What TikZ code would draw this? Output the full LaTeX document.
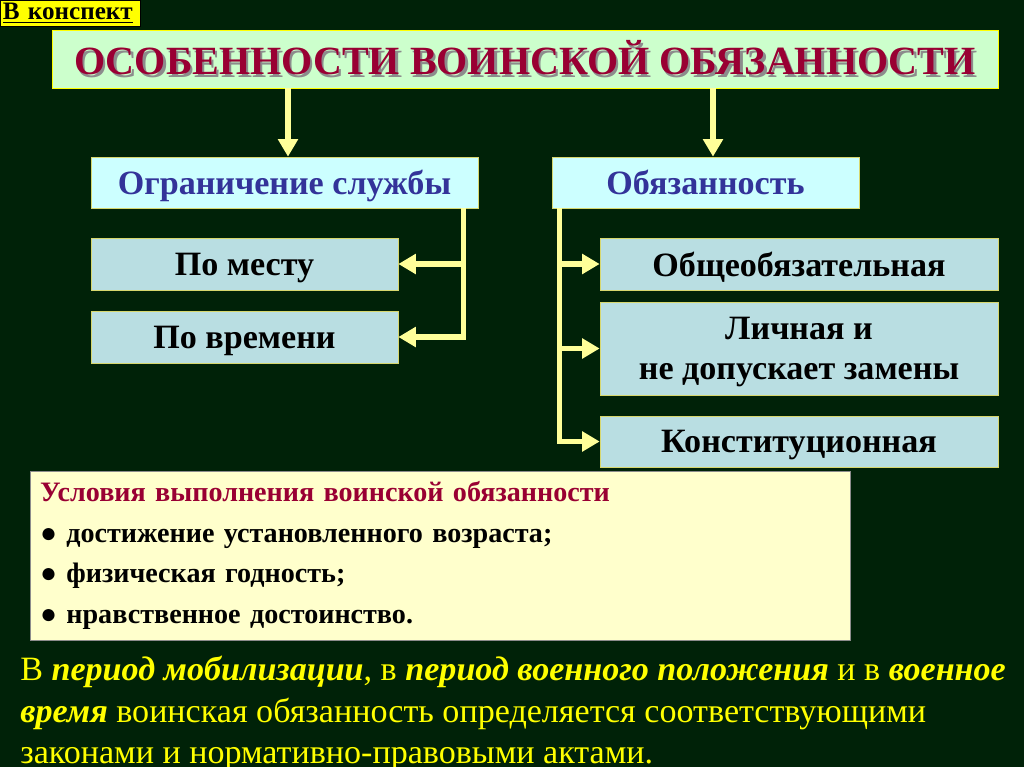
\documentclass[tikz,border=0pt]{standalone}
\usepackage{fontspec}
\setmainfont{Liberation Serif}
\definecolor{bgdark}{RGB}{0,34,8}
\definecolor{titlered}{RGB}{153,0,51}
\definecolor{headblue}{RGB}{51,51,153}
\definecolor{lightgreen}{RGB}{204,255,204}
\definecolor{lightcyan}{RGB}{204,255,255}
\definecolor{itemblue}{RGB}{185,222,226}
\definecolor{paleyellow}{RGB}{255,255,204}
\definecolor{linkyellow}{RGB}{255,255,153}
\definecolor{edgeyellow}{RGB}{215,215,110}
\definecolor{brightyellow}{RGB}{255,255,0}
\usetikzlibrary{arrows.meta, positioning, calc}
\newcommand{\shadowed}[1]{\makebox[0pt][l]{\raisebox{-1.3pt}{\hspace{1.3pt}\color{black!45}#1}}#1}

\begin{document}
\begin{tikzpicture}[
    x=0.02cm, y=-0.02cm,
    konspekt/.style={draw=black, fill=brightyellow, anchor=north west, inner xsep=0.5pt, inner ysep=0pt,
                     minimum width=2.8cm, minimum height=0.52cm, text width=2.7cm, align=left,
                     font=\fontsize{14.3}{15}\selectfont\bfseries},
    titlebox/.style={draw=brightyellow, fill=lightgreen, minimum width=18.92cm, minimum height=1.16cm,
                     text=titlered, font=\fontsize{22.8}{26}\selectfont\bfseries},
    headbox/.style={draw=edgeyellow, fill=lightcyan, minimum height=1.02cm, text depth=0pt,
                    text=headblue, font=\fontsize{19.4}{22}\selectfont\bfseries},
    itembox/.style={draw=edgeyellow, fill=itemblue, minimum width=#1, minimum height=1.04cm,
                    text depth=0pt, align=center, font=\fontsize{19.4}{23}\selectfont\bfseries},
    condbox/.style={draw=black!45, fill=paleyellow, minimum width=16.4cm, minimum height=3.38cm,
                    text width=16cm, align=left, font=\fontsize{16}{23}\selectfont\bfseries},
    link/.style={draw=linkyellow, line width=3.2pt, line join=miter,
                 -{Triangle[length=10pt, width=11pt]}}
]
    \fill[bgdark] (0,0) rectangle (1024,767);
    \useasboundingbox (0,0) rectangle (1024,767);
    \clip (0,0) rectangle (1024,767);

    \node[konspekt] (konsp) at (0,0) {\underline{В конспект}};
    \node[titlebox] (title) at (525,59) {\shadowed{ОСОБЕННОСТИ ВОИНСКОЙ ОБЯЗАННОСТИ}};

    \node[headbox, minimum width=7.74cm] (ogr) at (284.5,182.5) {Ограничение службы};
    \node[headbox, minimum width=6.14cm] (obyaz) at (705.5,182.5) {Обязанность};

    \node[itembox=6.14cm] (mesto) at (244.5,264) {По месту};
    \node[itembox=6.14cm] (vremya) at (244.5,337) {По времени};

    \node[itembox=7.96cm] (obshe) at (799,264) {Общеобязательная};
    \node[itembox=7.96cm, minimum height=1.86cm] (lichn) at (799,348.5) {Личная и\\не допускает замены};
    \node[itembox=7.96cm, minimum height=1.02cm] (konst) at (799,441.5) {Конституционная};

    \node[condbox] (usl) at (440,555.5) {
        \textcolor{titlered}{Условия выполнения воинской обязанности}\\
        ● достижение установленного возраста;\\
        ● физическая годность;\\
        ● нравственное достоинство.
    };

    \node[anchor=north west, inner sep=0pt, text=brightyellow, align=left,
          font=\fontsize{19.4}{23.5}\selectfont] (note) at (20,656) {
        В \textbf{\textit{период мобилизации}}, в \textbf{\textit{период военного положения}} и в \textbf{\textit{военное}}\\
        \textbf{\textit{время}} воинская обязанность определяется соответствующими\\
        законами и нормативно-правовыми актами.
    };

    % arrows from the title
    \coordinate (ltop) at ([xshift=0.07cm]ogr.north);
    \coordinate (rtop) at ([xshift=0.15cm]obyaz.north);
    \draw[link] (ltop |- title.south) -- (ltop);
    \draw[link] (rtop |- title.south) -- (rtop);

    % left branch
    \coordinate (lbus) at ([xshift=-0.3cm]ogr.south east);
    \draw[link] (lbus) |- (vremya.east);
    \draw[link] (lbus |- mesto.east) -- (mesto.east);

    % right branch
    \coordinate (rbus) at ([xshift=0.16cm]obyaz.south west);
    \draw[link] (rbus) |- (konst.west);
    \draw[link] (rbus |- obshe.west) -- (obshe.west);
    \draw[link] (rbus |- lichn.west) -- (lichn.west);
\end{tikzpicture}
\end{document}
